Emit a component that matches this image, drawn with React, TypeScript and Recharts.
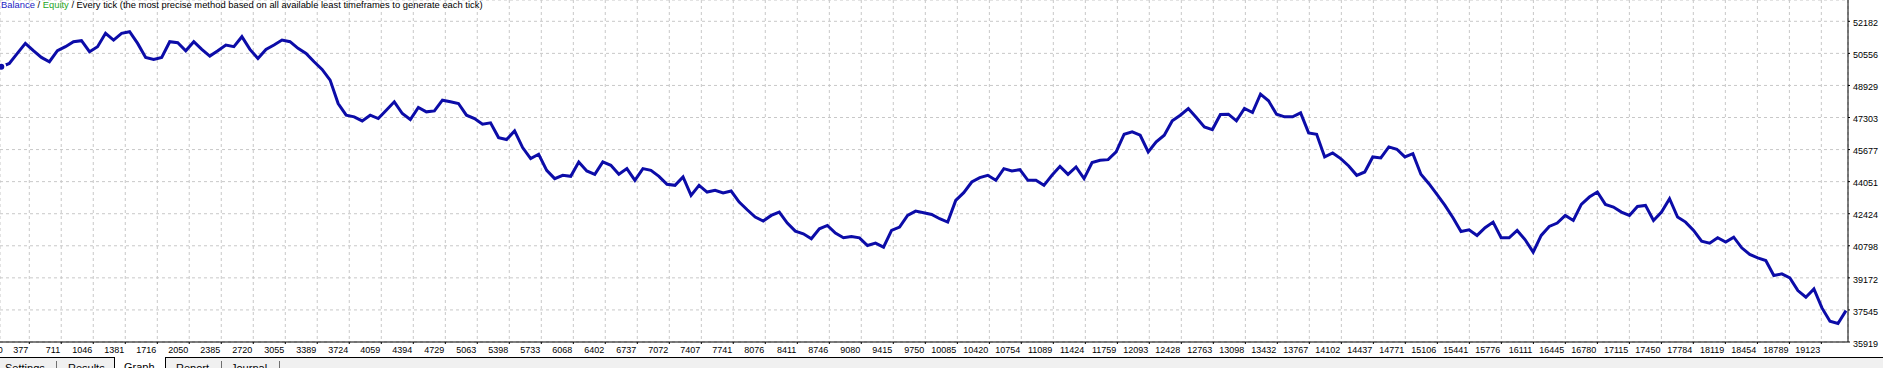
import { LineChart, Line, XAxis, YAxis, CartesianGrid } from 'recharts';

const FONT = '"Liberation Sans", Arial, sans-serif';

// trade number of the first sample and spacing between samples
const X0 = 84;
const X_STEP = 83.9;

// balance, one value per sample
const BALANCE = [
  49876, 50046, 50554, 51062, 50690, 50351, 50131, 50690, 50893, 51147,
  51198, 50639, 50893, 51571, 51232, 51571, 51655, 51062, 50351, 50249,
  50351, 51147, 51096, 50690, 51147, 50757, 50419, 50690, 50978, 50893,
  51401, 50757, 50300, 50757, 50978, 51232, 51147, 50808, 50554, 50131,
  49741, 49199, 48013, 47420, 47336, 47132, 47420,
  47251, 47674, 48098, 47505, 47200, 47810, 47590, 47640, 48183, 48098,
  48013, 47420, 47251, 46963, 47031, 46285, 46184, 46624, 45777, 45218,
  45438, 44625, 44202, 44371, 44320, 45049, 44591, 44422, 45049, 44879,
  44422, 44710, 44117, 44710, 44625, 44320, 43914, 43863, 44286, 43355,
  43863, 43524, 43609, 43473, 43575, 43016,
  42626, 42254, 42050, 42338, 42508, 41949, 41542, 41407, 41152, 41661,
  41830, 41440, 41203, 41271, 41203, 40814, 40932, 40729, 41576, 41745,
  42338, 42558, 42474, 42389, 42169, 41999, 43100, 43490, 44032, 44252,
  44371, 44117, 44710, 44591, 44659, 44117, 44117, 43863, 44371, 44828,
  44422, 44794, 44202, 45015, 45133, 45167,
  45557, 46455, 46573, 46404, 45557, 46065, 46404, 47132, 47420, 47759,
  47302, 46827, 46692, 47454, 47471, 47132, 47759, 47556, 48487, 48149,
  47471, 47336, 47336, 47539, 46522, 46455, 45303, 45506, 45218, 44845,
  44371, 44540, 45303, 45252, 45811, 45692, 45303, 45472, 44422, 43948,
  43405, 42846, 42220, 41525, 41610, 41322,
  41711, 41999, 41203, 41203, 41576, 41102, 40475, 41322, 41779, 41949,
  42338, 42084, 42897, 43270, 43524, 42897, 42762, 42508, 42338, 42796,
  42846, 42084, 42508, 43185, 42254, 41999, 41576, 41034, 40932, 41203,
  40983, 41237, 40695, 40356, 40187, 40051, 39289, 39374, 39170, 38527,
  38188, 38611, 37646, 36968, 36860, 37510,
];

const X_TICKS = [
  377, 711, 1046, 1381, 1716, 2050, 2385, 2720, 3055, 3389, 3724, 4059, 4394,
  4729, 5063, 5398, 5733, 6068, 6402, 6737, 7072, 7407, 7741, 8076, 8411, 8746,
  9080, 9415, 9750, 10085, 10420, 10754, 11089, 11424, 11759, 12093, 12428,
  12763, 13098, 13432, 13767, 14102, 14437, 14771, 15106, 15441, 15776, 16111,
  16445, 16780, 17115, 17450, 17784, 18119, 18454, 18789, 19123,
];

const Y_TICKS = [
  35919, 37545, 39172, 40798, 42424, 44051, 45677, 47303, 48929, 50556, 52182,
];

const X_DOMAIN = [70.5, 19402];
const Y_DOMAIN = [35919, 53262];

const data = BALANCE.map((b, i) => ({ x: X0 + i * X_STEP, balance: b }));

function XTick({ x, payload }: any) {
  return (
    <text x={x - 1} y={353.3} textAnchor="end" fontSize={9} fontFamily={FONT} fill="#000">
      {payload.value}
    </text>
  );
}

function YTick({ x, y, payload }: any) {
  return (
    <text x={x} y={y + 4.7} textAnchor="start" fontSize={9} fontFamily={FONT} fill="#000">
      {payload.value}
    </text>
  );
}

function Overlay() {
  return (
    <svg
      width={1883}
      height={368}
      style={{ position: 'absolute', left: 0, top: 0, pointerEvents: 'none' }}
    >
      <text x={1} y={8.3} fontSize={9.4} fontFamily={FONT}>
        <tspan fill="#2424c4">Balance</tspan>
        <tspan fill="#000">{' / '}</tspan>
        <tspan fill="#1ea51e">Equity</tspan>
        <tspan fill="#000">
          {' / Every tick (the most precise method based on all available least timeframes to generate each tick)'}
        </tspan>
      </text>
      <text x={2.7} y={353.3} textAnchor="end" fontSize={9} fontFamily={FONT} fill="#000">
        0
      </text>

      {/* tab strip */}
      <rect x={0} y={358} width={1883} height={10} fill="#f0f0f0" />
      <rect x={115} y={357} width={50} height={11} fill="#fff" />
      <line x1={0} y1={357.5} x2={115} y2={357.5} stroke="#000" />
      <line x1={165} y1={357.5} x2={1883} y2={357.5} stroke="#000" />
      <line x1={114.5} y1={357.5} x2={114.5} y2={368} stroke="#000" />
      <line x1={165.5} y1={357.5} x2={165.5} y2={368} stroke="#000" />
      <line x1={56.5} y1={361} x2={56.5} y2={368} stroke="#707070" />
      <line x1={221.5} y1={361} x2={221.5} y2={368} stroke="#707070" />
      <line x1={279.5} y1={361} x2={279.5} y2={368} stroke="#707070" />
      <g fontSize={11} fontFamily={FONT} fill="#000">
        <text x={5} y={372.2}>Settings</text>
        <text x={68} y={372.2}>Results</text>
        <text x={124} y={371.2}>Graph</text>
        <text x={176} y={372.2}>Report</text>
        <text x={231} y={372.2}>Journal</text>
      </g>
    </svg>
  );
}

export default function App() {
  return (
    <div
      style={{
        position: 'absolute',
        left: 0,
        top: 0,
        width: 1883,
        height: 368,
        overflow: 'hidden',
        background: '#fff',
      }}
    >
      <LineChart width={1883} height={368} data={data} margin={{ top: 0, right: 0, bottom: 0, left: 0 }}>
        <CartesianGrid stroke="#c8c8c8" strokeDasharray="3 3" />
        <XAxis
          dataKey="x"
          type="number"
          domain={X_DOMAIN}
          allowDataOverflow
          ticks={X_TICKS}
          interval={0}
          height={26}
          axisLine={{ stroke: '#000' }}
          tickLine={{ stroke: '#000' }}
          tickSize={2}
          tick={<XTick />}
        />
        <YAxis
          orientation="right"
          type="number"
          domain={Y_DOMAIN}
          allowDataOverflow
          ticks={Y_TICKS}
          interval={0}
          width={35}
          axisLine={{ stroke: '#000' }}
          tickLine={{ stroke: '#000' }}
          tickSize={2}
          tickMargin={3}
          tick={<YTick />}
        />
        <Line
          dataKey="balance"
          type="linear"
          stroke="#0c0ca8"
          strokeWidth={3}
          dot={false}
          isAnimationActive={false}
        />
      </LineChart>
      <Overlay />
    </div>
  );
}
